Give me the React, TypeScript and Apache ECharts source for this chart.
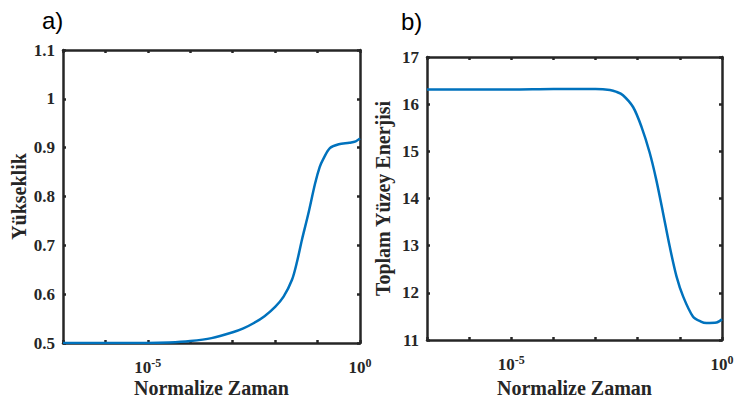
import React, { useEffect, useRef } from "react";
import * as echarts from "echarts";

// Normalised time samples and height (Yükseklik) readings for panel a)
const heightTime = [
  1e-7, 1e-6, 1e-5, 3.16e-5, 1e-4, 3.16e-4, 1e-3, 1.78e-3, 3.16e-3, 0.00562, 0.01,
  0.0158, 0.0251, 0.0331, 0.0427, 0.0603, 0.0871, 0.112, 0.135, 0.195, 0.316, 0.562,
  0.794, 1,
];
const heightValues = [
  0.5, 0.5, 0.5, 0.501, 0.504, 0.51, 0.522, 0.53, 0.541, 0.555, 0.574, 0.595,
  0.63, 0.668, 0.711, 0.764, 0.826, 0.86, 0.876, 0.899, 0.907, 0.91, 0.913, 0.919,
];

// Normalised time samples and total surface energy readings for panel b)
const energyTime = [
  1e-7, 1e-5, 1e-4, 1e-3, 0.00219, 0.00316, 0.00447, 0.00776, 0.0123, 0.0191,
  0.0275, 0.0398, 0.0575, 0.0832, 0.12, 0.204, 0.316, 0.427, 0.741, 1,
];
const energyValues = [
  16.31, 16.31, 16.32, 16.32, 16.3, 16.26, 16.19, 15.94, 15.52, 14.98, 14.4,
  13.7, 12.98, 12.35, 11.92, 11.5, 11.39, 11.36, 11.37, 11.44,
];

// Decades that carry a tick label on the time axes
const labelledExponents = [-5, 0];

const AXIS_COLOR = "#262626";
const LINE_COLOR = "#0072BD";
const SERIF = "'Liberation Serif', 'Times New Roman', serif";

const xBase = (gridIndex: number, position: "bottom" | "top", withLabels: boolean) => ({
  type: "log" as const,
  logBase: 10,
  gridIndex,
  position,
  min: 1e-7,
  max: 1,
  interval: 1,
  splitNumber: 7,
  name: withLabels ? "Normalize Zaman" : "",
  nameLocation: "middle" as const,
  nameGap: gridIndex === 0 ? 35 : 38,
  nameMoveOverlap: false,
  nameTextStyle: { fontFamily: SERIF, fontWeight: "bold", fontSize: 20, color: AXIS_COLOR },
  axisLine: { show: true, onZero: false, lineStyle: { color: AXIS_COLOR, width: 2.5 } },
  axisTick: { show: true, inside: true, length: 3, lineStyle: { color: AXIS_COLOR, width: 2.5 } },
  minorTick: { show: false },
  splitLine: { show: false },
  axisLabel: {
    show: withLabels,
    margin: 14,
    showMinLabel: true,
    showMaxLabel: true,
    formatter: (v: number) => {
      const e = Math.round(Math.log10(v));
      return labelledExponents.includes(e) ? `{b|10}{s|${e}}` : "";
    },
    rich: {
      b: {
        fontFamily: SERIF, fontWeight: "bold", fontSize: 17, color: AXIS_COLOR,
        lineHeight: 19, verticalAlign: "bottom",
      },
      s: {
        fontFamily: SERIF, fontWeight: "bold", fontSize: 12, color: AXIS_COLOR,
        lineHeight: 19, verticalAlign: "top",
      },
    },
  },
});

const yBase = (
  gridIndex: number,
  position: "left" | "right",
  min: number,
  max: number,
  interval: number,
  name: string,
) => ({
  type: "value" as const,
  gridIndex,
  position,
  min,
  max,
  interval,
  name,
  nameLocation: "middle" as const,
  nameGap: 34,
  nameMoveOverlap: false,
  nameTextStyle: { fontFamily: SERIF, fontWeight: "bold", fontSize: 20, color: AXIS_COLOR },
  axisLine: { show: true, onZero: false, lineStyle: { color: AXIS_COLOR, width: 2.5 } },
  axisTick: { show: true, inside: true, length: 3, lineStyle: { color: AXIS_COLOR, width: 2.5 } },
  splitLine: { show: false },
  axisLabel: {
    show: position === "left",
    margin: 8,
    fontFamily: SERIF,
    fontWeight: "bold",
    fontSize: 17,
    color: AXIS_COLOR,
  },
});

export default function App() {
  const ref = useRef<HTMLDivElement>(null);

  useEffect(() => {
    if (!ref.current) return;
    const chart = echarts.init(ref.current, undefined, { renderer: "svg" });
    chart.setOption({
      animation: false,
      backgroundColor: "#ffffff",
      grid: [
        { left: 63, top: 50, width: 297, height: 293, containLabel: false, outerBoundsMode: "none" },
        { left: 427, top: 57, width: 295, height: 283, containLabel: false, outerBoundsMode: "none" },
      ],
      xAxis: [
        xBase(0, "bottom", true),
        xBase(0, "top", false),
        xBase(1, "bottom", true),
        xBase(1, "top", false),
      ],
      yAxis: [
        yBase(0, "left", 0.5, 1.1, 0.1, "Yükseklik"),
        yBase(0, "right", 0.5, 1.1, 0.1, ""),
        yBase(1, "left", 11, 17, 1, "Toplam Yüzey Enerjisi"),
        yBase(1, "right", 11, 17, 1, ""),
      ],
      series: [
        {
          type: "line",
          xAxisIndex: 0,
          yAxisIndex: 0,
          data: heightTime.map((t, i) => [t, heightValues[i]]),
          showSymbol: false,
          smooth: 0.3,
          lineStyle: { color: LINE_COLOR, width: 2.5 },
        },
        {
          type: "line",
          xAxisIndex: 2,
          yAxisIndex: 2,
          data: energyTime.map((t, i) => [t, energyValues[i]]),
          showSymbol: false,
          smooth: 0.3,
          lineStyle: { color: LINE_COLOR, width: 2.5 },
        },
      ],
      graphic: [
        {
          type: "text",
          left: 42,
          top: 8,
          style: { text: "a)", fontFamily: "'Liberation Sans', Arial, sans-serif", fontSize: 24, fill: "#000" },
        },
        {
          type: "text",
          left: 401,
          top: 9,
          style: { text: "b)", fontFamily: "'Liberation Sans', Arial, sans-serif", fontSize: 24, fill: "#000" },
        },
      ],
    });
    return () => chart.dispose();
  }, []);

  return (
    <div
      ref={ref}
      style={{ position: "fixed", left: 0, top: 0, width: 734, height: 401, background: "#fff" }}
    />
  );
}
